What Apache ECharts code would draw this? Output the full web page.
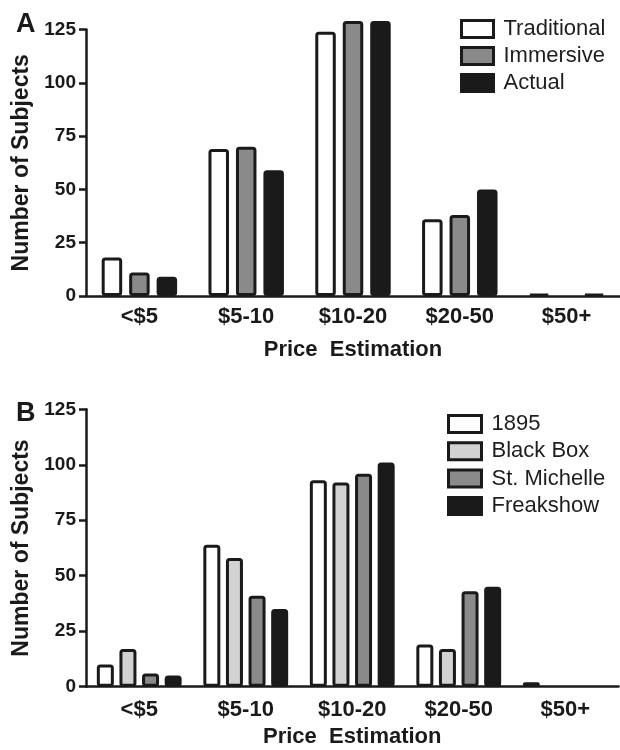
<!DOCTYPE html>
<html>
<head>
<meta charset="utf-8">
<script src="https://cdn.jsdelivr.net/npm/echarts@6/dist/echarts.min.js"></script>
<style>
html,body{margin:0;padding:0;background:#fff;}
#chart{width:620px;height:750px;}
</style>
</head>
<body>
<div id="chart"></div>
<script>
const categories = ['<$5', '$5-10', '$10-20', '$20-50', '$50+'];
const yTicks = [0, 25, 50, 75, 100, 125];

// Panel A
const traditional = [18, 69, 124, 36, 1];
const immersive   = [11, 70, 129, 38, 0];
const actual      = [9, 59, 129, 50, 1];

// Panel B
const s1895      = [10, 64, 93, 19, 2];
const blackBox   = [17, 58, 92, 17, 0];
const stMichelle = [6, 41, 96, 43, 0];
const freakshow  = [5, 35, 101, 45, 0];

const FONT = 'Liberation Sans, Arial, sans-serif';
const INK = '#1a1a1a';
const WHITE = '#ffffff', LIGHT = '#d2d2d2', GRAY = '#8a8a8a', BLACK = '#1a1a1a';

function xAxisCfg(gridIndex, labelMargin, nameGap) {
  return {
    type: 'category', gridIndex: gridIndex, data: categories,
    name: 'Price  Estimation', nameLocation: 'middle', nameGap: nameGap,
    nameTextStyle: {fontFamily: FONT, fontWeight: 'bold', fontSize: 22, color: INK},
    axisLine: {lineStyle: {color: INK, width: 2.5}},
    axisTick: {alignWithLabel: true, length: 8, lineStyle: {color: INK, width: 2.5}},
    axisLabel: {fontFamily: FONT, fontWeight: 'bold', fontSize: 22, color: INK, margin: labelMargin, interval: 0},
    splitLine: {show: false}
  };
}
function yAxisCfg(gridIndex) {
  return {
    type: 'value', gridIndex: gridIndex, min: yTicks[0], max: yTicks[yTicks.length - 1], interval: 25,
    name: 'Number of Subjects', nameLocation: 'middle', nameGap: 52, nameRotate: 90,
    nameTextStyle: {fontFamily: FONT, fontWeight: 'bold', fontSize: 23, color: INK},
    axisLine: {show: true, lineStyle: {color: INK, width: 2.5}},
    axisTick: {show: true, length: 7, lineStyle: {color: INK, width: 2.5}},
    axisLabel: {fontFamily: FONT, fontWeight: 'bold', fontSize: 19, color: INK, margin: 10},
    splitLine: {show: false}
  };
}
function barSeries(name, data, color, xi, width, gap) {
  return {
    type: 'bar', name: name, xAxisIndex: xi, yAxisIndex: xi,
    data: data.map(v => v === 0 ? {value: v, itemStyle: {borderWidth: 0}} : v),
    barWidth: width, barGap: gap, clip: false,
    itemStyle: {color: color, borderColor: INK, borderWidth: 3, borderRadius: 2},
    emphasis: {disabled: true}, animation: false
  };
}
const legendText = {fontFamily: FONT, fontSize: 22, color: '#1e1e1e', lineHeight: 22, padding: [0, 0, 0, 5]};

const option = {
  backgroundColor: '#fff',
  animation: false,
  title: [
    {text: 'A', left: 11, top: 6, textStyle: {fontFamily: FONT, fontWeight: 'bold', fontSize: 27, color: INK}},
    {text: 'B', left: 11, top: 395, textStyle: {fontFamily: FONT, fontWeight: 'bold', fontSize: 27, color: INK}}
  ],
  grid: [
    {left: 86, top: 29.5, width: 536, height: 266.5},
    {left: 86, top: 409.3, width: 532.5, height: 277.4}
  ],
  legend: [
    {data: ['Traditional', 'Immersive', 'Actual'], orient: 'vertical', left: 455, top: 13,
     itemWidth: 32, itemHeight: 17, itemGap: 5, textStyle: legendText, icon: 'rect',
     itemStyle: {borderColor: INK, borderWidth: 3}, selectedMode: false},
    {data: ['1895', 'Black Box', 'St. Michelle', 'Freakshow'], orient: 'vertical', left: 442, top: 408,
     itemWidth: 33, itemHeight: 17, itemGap: 5.3, textStyle: legendText, icon: 'rect',
     itemStyle: {borderColor: INK, borderWidth: 3}, selectedMode: false}
  ],
  xAxis: [xAxisCfg(0, 10, 43), xAxisCfg(1, 12, 39)],
  yAxis: [yAxisCfg(0), yAxisCfg(1)],
  series: [
    barSeries('Traditional', traditional, WHITE, 0, 20.5, '34%'),
    barSeries('Immersive', immersive, GRAY, 0, 20.5, '34%'),
    barSeries('Actual', actual, BLACK, 0, 20.5, '34%'),
    barSeries('1895', s1895, WHITE, 1, 17, '33%'),
    barSeries('Black Box', blackBox, LIGHT, 1, 17, '33%'),
    barSeries('St. Michelle', stMichelle, GRAY, 1, 17, '33%'),
    barSeries('Freakshow', freakshow, BLACK, 1, 17, '33%')
  ]
};
const chart = echarts.init(document.getElementById('chart'), null, {renderer: 'canvas'});
chart.setOption(option);
</script>
</body>
</html>
